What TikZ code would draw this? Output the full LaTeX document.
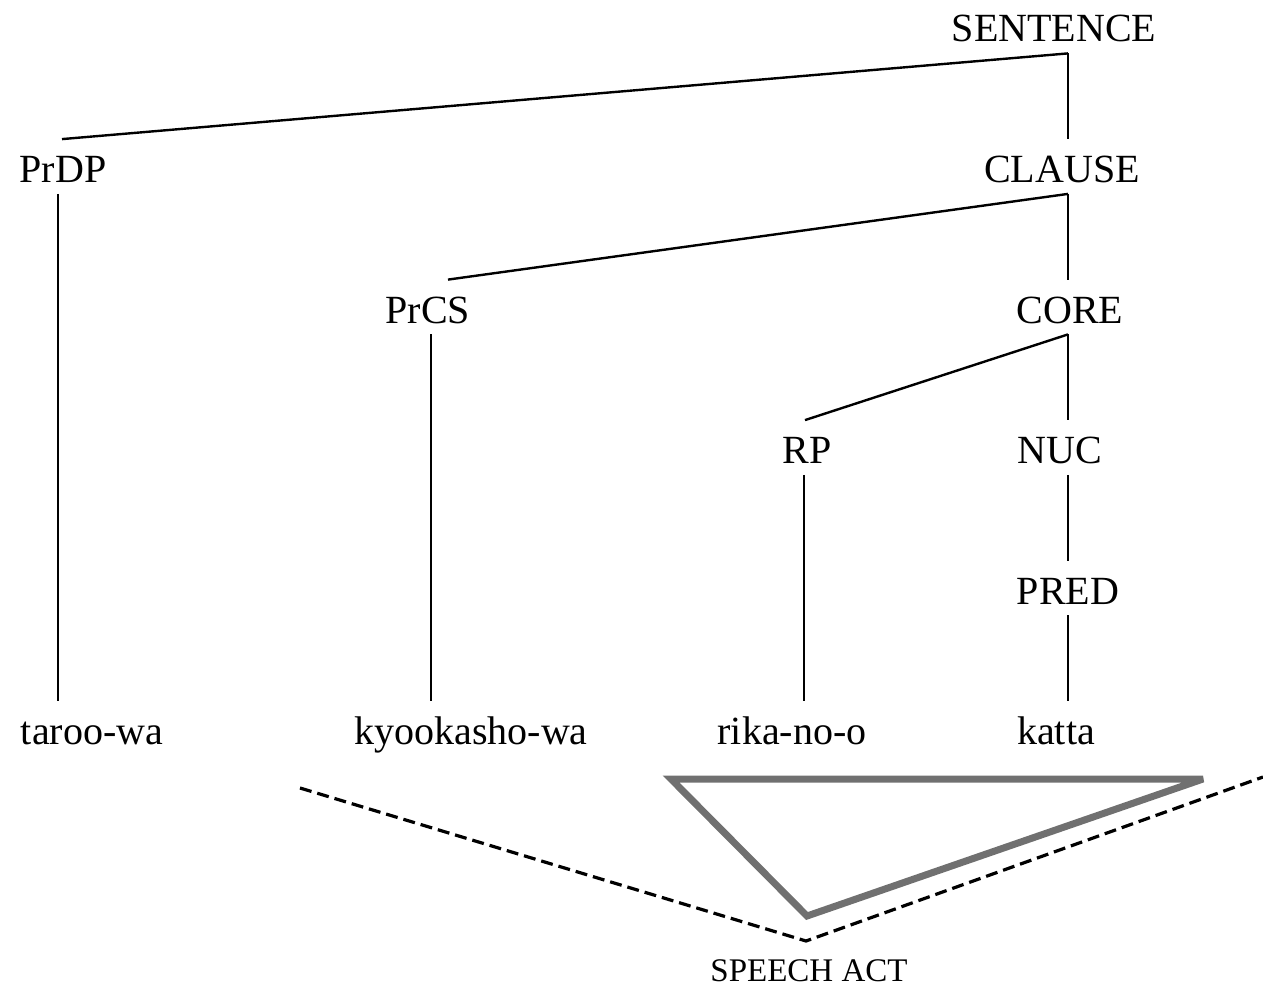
\documentclass[tikz,border=0pt]{standalone}
\usepackage{fontspec}
\setmainfont{Liberation Serif}
\begin{document}
\begin{tikzpicture}[x=0.5pt,y=-0.5pt,
  lbl/.style={font=\fontsize{20pt}{24pt}\selectfont, anchor=base,
    inner xsep=0pt, inner ysep=5.5pt, text height=16pt, text depth=0pt},
  small/.style={font=\fontsize{16.5pt}{20pt}\selectfont, anchor=base, inner sep=0pt},
  branch/.style={line width=1.2pt, black},
  focus/.style={line width=3.5pt, draw=black!56, line join=miter, miter limit=4},
  scopeline/.style={line width=1.6pt, dash pattern=on 6pt off 3pt, line join=miter}]

\useasboundingbox (0,0) rectangle (1263,990);

% columns used by the vertical branches
\coordinate (spine) at (1068,0);
\coordinate (colA) at (58,0);
\coordinate (colB) at (431,0);
\coordinate (colC) at (804,0);

% layered structure
\node[lbl] (sentence) at (1054,42) {SENTENCE};
\node[lbl] (prdp)     at (63,182.5) {PrDP};
\node[lbl] (clause)   at (1062,182.5) {CLAUSE};
\node[lbl] (prcs)     at (428,323) {PrCS};
\node[lbl] (core)     at (1070,323) {CORE};
\node[lbl] (rp)       at (807,463.5) {RP};
\node[lbl] (nuc)      at (1060,463.5) {NUC};
\node[lbl] (pred)     at (1068,604) {PRED};

% words
\node[lbl] (taroo) at (92,744.5) {taroo-wa};
\node[lbl] (kyo)   at (471,744.5) {kyookasho-wa};
\node[lbl] (rika)  at (792,744.5) {rika-no-o};
\node[lbl] (katta) at (1056,744.5) {katta};

\node[small] (sa) at (809,981) {SPEECH ACT};

% branches
\draw[branch] (sentence.south -| spine) -- (clause.north -| spine);
\draw[branch] (sentence.south -| spine) -- ([xshift=-0.5pt]prdp.north);
\draw[branch] (clause.south -| spine) -- (core.north -| spine);
\draw[branch] (clause.south -| spine) -- ([xshift=10pt]prcs.north);
\draw[branch] (core.south -| spine) -- (nuc.north -| spine);
\draw[branch] (core.south -| spine) -- ([xshift=-1pt]rp.north);
\draw[branch] (nuc.south -| spine) -- (pred.north -| spine);
\draw[branch] (pred.south -| spine) -- (katta.north -| spine);
\draw[branch] (prdp.south -| colA) -- (taroo.north -| colA);
\draw[branch] (prcs.south -| colB) -- (kyo.north -| colB);
\draw[branch] (rp.south -| colC) -- (rika.north -| colC);

% focus domain and illocutionary scope
\coordinate (f1) at (671,779);
\coordinate (f2) at (1203,779);
\coordinate (f3) at (807,916);
\draw[focus] (f1) -- (f2) -- (f3) -- cycle;

\coordinate (d1) at (300,788);
\coordinate (d2) at (806,941);
\coordinate (d3) at (1263,777);
\draw[scopeline] (d1) -- (d2) -- (d3);
\end{tikzpicture}
\end{document}
